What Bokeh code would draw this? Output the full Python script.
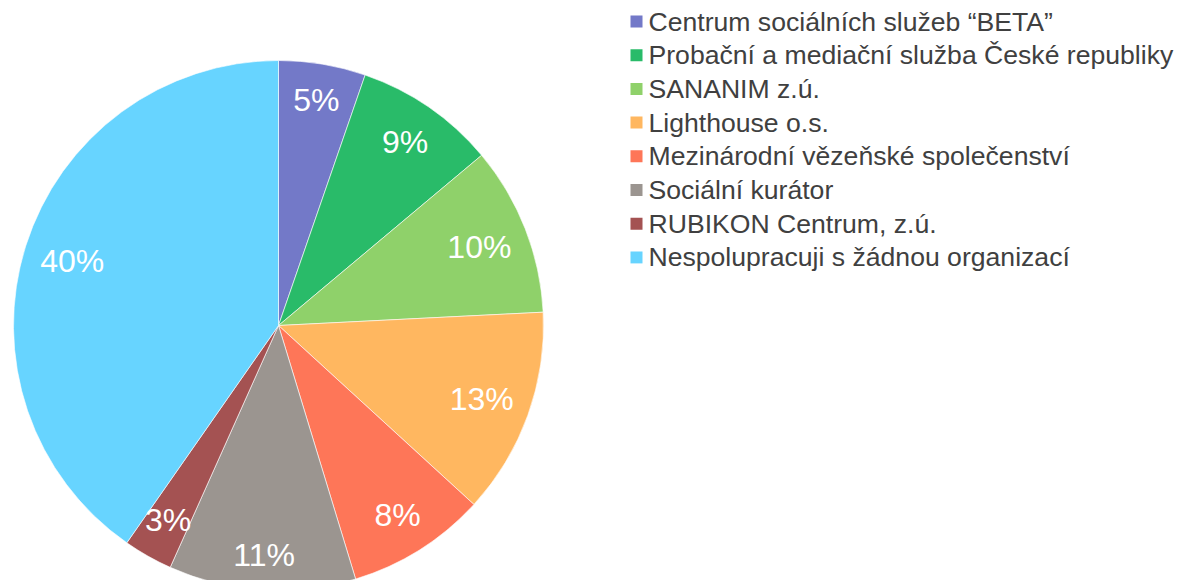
import math
from bokeh.plotting import figure
from bokeh.models import ColumnDataSource, Range1d
from bokeh.core.properties import value
from bokeh.embed import file_html
from bokeh.resources import INLINE

categories = [
    "Centrum sociálních služeb \u201cBETA\u201d",
    "Probační a mediační služba České republiky",
    "SANANIM z.ú.",
    "Lighthouse o.s.",
    "Mezinárodní vězeňské společenství",
    "Sociální kurátor",
    "RUBIKON Centrum, z.ú.",
    "Nespolupracuji s žádnou organizací",
]
# slice shares as drawn in the picture (percent)
shares = [5.3, 8.6, 10.3, 12.6, 8.5, 11.4, 3.0, 40.3]
# data labels as printed on the slices
labels = ["5%", "9%", "10%", "13%", "8%", "11%", "3%", "40%"]
colors = ["#7379C8", "#29BB69", "#8FD16A", "#FFB760",
          "#FE7658", "#9B9590", "#A45252", "#67D4FF"]

W, H = 1183, 580
CX, CY, R = 278, H - 325, 265
FONT = "Liberation Sans"
LABEL_PX = 32

total = sum(shares)
starts, ends, lx, ly = [], [], [], []
cum = 0.0
for s, lab in zip(shares, labels):
    a0 = cum / total * 2 * math.pi
    cum += s
    a1 = cum / total * 2 * math.pi
    starts.append(math.pi / 2 - a0)
    ends.append(math.pi / 2 - a1)
    mid = (a0 + a1) / 2
    hw = 0.5 * 29 * (0.556 * (len(lab) - 1) + 0.889)
    hh = 17
    d = R - (hw * abs(math.sin(mid)) + hh * abs(math.cos(mid))) - 16
    lx.append(CX + d * math.sin(mid))
    ly.append(CY + d * math.cos(mid))

src = ColumnDataSource(dict(start=starts, end=ends, color=colors,
                            lx=lx, ly=ly, label=labels))

p = figure(width=W, height=H, output_backend="svg", toolbar_location=None,
           x_range=Range1d(0, W), y_range=Range1d(0, H), min_border=0)
p.axis.visible = False
p.grid.visible = False
p.outline_line_color = None
p.background_fill_color = "white"
p.border_fill_color = "white"

p.wedge(x=CX, y=CY, radius=R, start_angle="start", end_angle="end",
        direction="clock", fill_color="color", line_color="white",
        line_width=0.6, source=src)

p.text(x="lx", y="ly", text="label", source=src, text_color="white",
       text_font=value(FONT), text_font_size=f"{LABEL_PX}px",
       text_align="center", text_baseline="middle")

# legend
n = len(categories)
leg_y = [H - 21 - 33.7 * i for i in range(n)]
leg_src = ColumnDataSource(dict(x=[636] * n, tx=[648] * n, y=leg_y,
                                color=colors, name=categories))
p.scatter(x="x", y="y", marker="square", size=12, fill_color="color",
          line_color=None, source=leg_src)
p.text(x="tx", y="y", text="name", source=leg_src, text_color="#404040",
       text_font=value(FONT), text_font_size="26.6px",
       text_align="left", text_baseline="middle")

open("out.html", "w").write(file_html(p, INLINE))
